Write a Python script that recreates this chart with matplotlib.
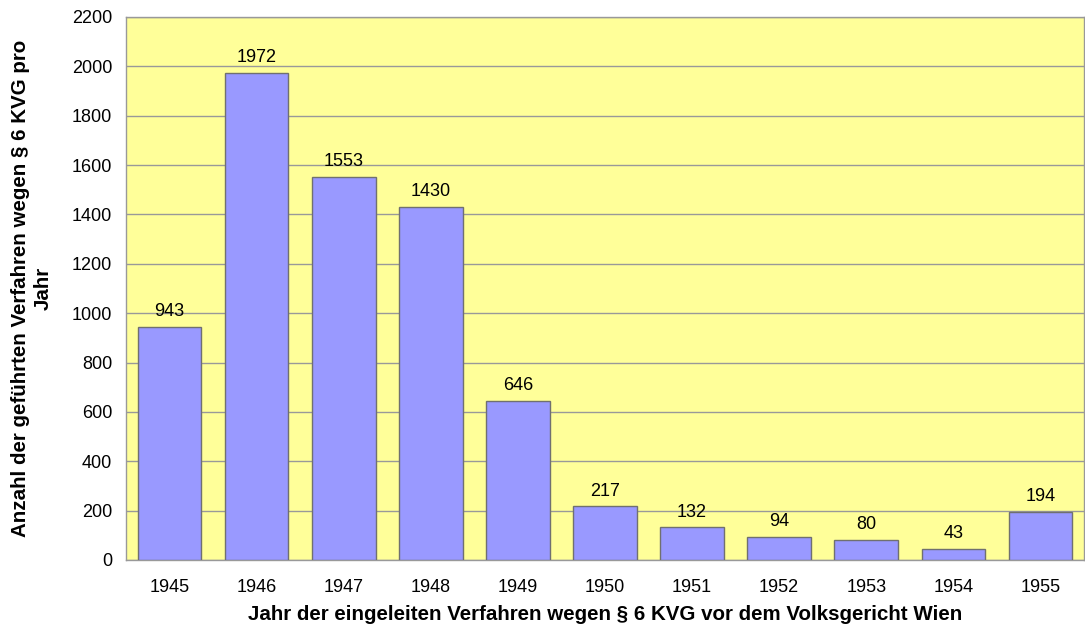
import matplotlib
matplotlib.use("Agg")
import matplotlib.pyplot as plt

years = ["1945", "1946", "1947", "1948", "1949", "1950", "1951", "1952", "1953", "1954", "1955"]
counts = [943, 1972, 1553, 1430, 646, 217, 132, 94, 80, 43, 194]
yticks = [0, 200, 400, 600, 800, 1000, 1200, 1400, 1600, 1800, 2000, 2200]

plt.rcParams['font.family'] = ['Liberation Sans', 'DejaVu Sans']

fig = plt.figure(figsize=(10.85, 6.3), dpi=100)
ax = fig.add_axes([126/1085, 1-560/630, 958/1085, 543/630])
ax.set_facecolor('#FFFF99')
x = range(len(years))
ax.bar(x, counts, width=0.73, color='#9999FF', edgecolor='#707070', linewidth=1, zorder=3)
for xi, v in zip(x, counts):
    ax.text(xi, v + 28, str(v), ha='center', va='bottom', fontsize=13, zorder=4)
ax.set_xlim(-0.5, len(years) - 0.5)
ax.set_ylim(0, 2200)
ax.set_yticks(yticks)
ax.set_xticks(list(x))
ax.set_xticklabels(years)
ax.tick_params(axis='both', length=0, labelsize=13)
ax.tick_params(axis='x', pad=14)
ax.tick_params(axis='y', pad=10)
ax.yaxis.grid(True, color='#999999', linewidth=1, zorder=0)
for s in ax.spines.values():
    s.set_color('#999999')
    s.set_linewidth(1)
ax.set_xlabel('Jahr der eingeleiten Verfahren wegen § 6 KVG vor dem Volksgericht Wien',
              fontsize=14.8, fontweight='bold', labelpad=6)
ax.set_ylabel('Anzahl der geführten Verfahren wegen § 6 KVG pro\nJahr',
              fontsize=14.8, fontweight='bold', labelpad=14, linespacing=1.2)
fig.savefig('out.png', dpi=100)
